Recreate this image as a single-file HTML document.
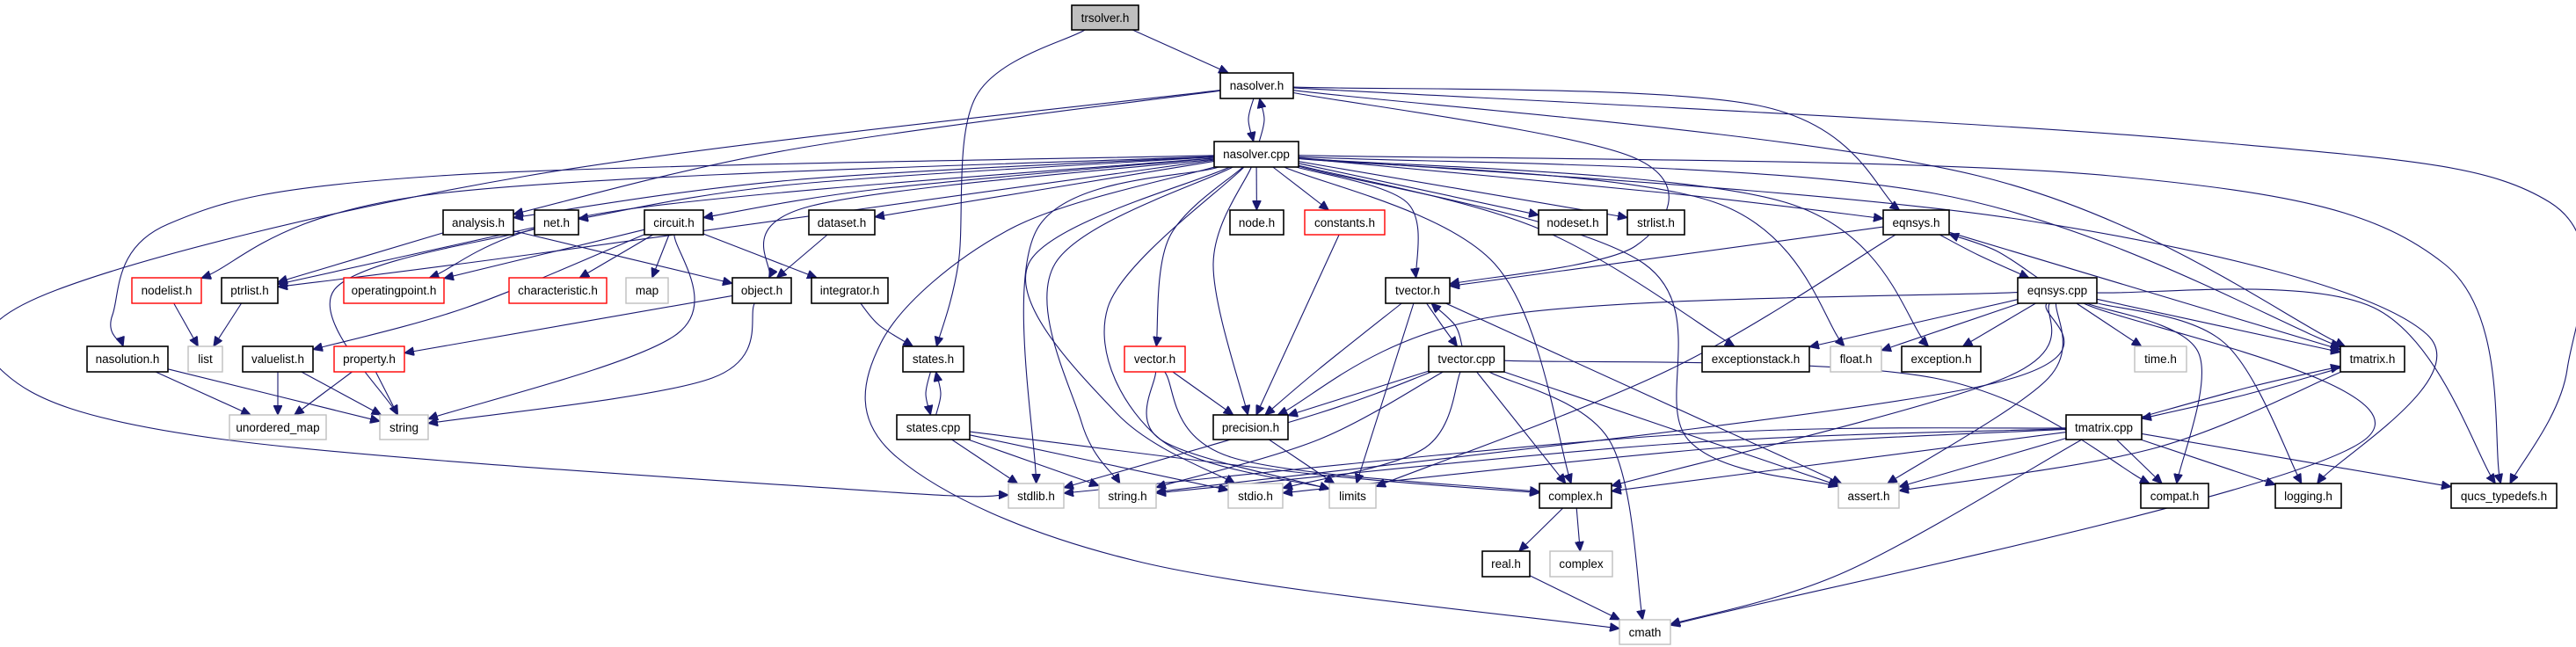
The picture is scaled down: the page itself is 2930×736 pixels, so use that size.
<!DOCTYPE html>
<html><head><meta charset="utf-8"><style>
html,body{margin:0;padding:0;background:#fff;}
svg{display:block;}
text{font-family:"Liberation Sans",sans-serif;font-size:13.5px;fill:#000;}
</style></head><body>
<svg id="g" width="2930" height="736" viewBox="0 0 2930 736" xmlns="http://www.w3.org/2000/svg">
<defs><marker id="a" markerUnits="userSpaceOnUse" markerWidth="12" markerHeight="10" refX="11" refY="5" orient="auto"><path d="M0,0 L11,5 L0,10 Z" fill="#191970" stroke="#191970"/></marker></defs>
<g id="edges" fill="none" stroke="#191970" stroke-width="1.1"></g>
<g id="nodes">
<rect x="1219" y="6" width="76" height="28" fill="#bfbfbf" stroke="#000" stroke-width="1.6"/><text x="1257" y="25" text-anchor="middle">trsolver.h</text>
<rect x="1388" y="83" width="83" height="29" fill="#fff" stroke="#000" stroke-width="1.6"/><text x="1429.5" y="102" text-anchor="middle">nasolver.h</text>
<rect x="1381" y="161" width="96" height="29" fill="#fff" stroke="#000" stroke-width="1.6"/><text x="1429" y="180" text-anchor="middle">nasolver.cpp</text>
<rect x="504" y="239" width="80" height="28" fill="#fff" stroke="#000" stroke-width="1.6"/><text x="544" y="258" text-anchor="middle">analysis.h</text>
<rect x="608" y="239" width="50" height="28" fill="#fff" stroke="#000" stroke-width="1.6"/><text x="633" y="258" text-anchor="middle">net.h</text>
<rect x="733" y="239" width="67" height="28" fill="#fff" stroke="#000" stroke-width="1.6"/><text x="766.5" y="258" text-anchor="middle">circuit.h</text>
<rect x="920" y="239" width="75" height="28" fill="#fff" stroke="#000" stroke-width="1.6"/><text x="957.5" y="258" text-anchor="middle">dataset.h</text>
<rect x="1399" y="239" width="61" height="28" fill="#fff" stroke="#000" stroke-width="1.6"/><text x="1429.5" y="258" text-anchor="middle">node.h</text>
<rect x="1484" y="239" width="91" height="28" fill="#fff" stroke="#f00" stroke-width="1.4"/><text x="1529.5" y="258" text-anchor="middle">constants.h</text>
<rect x="1750" y="239" width="78" height="28" fill="#fff" stroke="#000" stroke-width="1.6"/><text x="1789" y="258" text-anchor="middle">nodeset.h</text>
<rect x="1851" y="239" width="65" height="28" fill="#fff" stroke="#000" stroke-width="1.6"/><text x="1883.5" y="258" text-anchor="middle">strlist.h</text>
<rect x="2142" y="239" width="75" height="28" fill="#fff" stroke="#000" stroke-width="1.6"/><text x="2179.5" y="258" text-anchor="middle">eqnsys.h</text>
<rect x="150" y="316" width="79" height="29" fill="#fff" stroke="#f00" stroke-width="1.4"/><text x="189.5" y="335" text-anchor="middle">nodelist.h</text>
<rect x="252" y="316" width="64" height="29" fill="#fff" stroke="#000" stroke-width="1.6"/><text x="284" y="335" text-anchor="middle">ptrlist.h</text>
<rect x="391" y="316" width="114" height="29" fill="#fff" stroke="#f00" stroke-width="1.4"/><text x="448" y="335" text-anchor="middle">operatingpoint.h</text>
<rect x="579" y="316" width="111" height="29" fill="#fff" stroke="#f00" stroke-width="1.4"/><text x="634.5" y="335" text-anchor="middle">characteristic.h</text>
<rect x="712" y="316" width="48" height="29" fill="#fff" stroke="#bfbfbf" stroke-width="1.4"/><text x="736" y="335" text-anchor="middle">map</text>
<rect x="833" y="316" width="67" height="29" fill="#fff" stroke="#000" stroke-width="1.6"/><text x="866.5" y="335" text-anchor="middle">object.h</text>
<rect x="923" y="316" width="87" height="29" fill="#fff" stroke="#000" stroke-width="1.6"/><text x="966.5" y="335" text-anchor="middle">integrator.h</text>
<rect x="1576" y="316" width="73" height="29" fill="#fff" stroke="#000" stroke-width="1.6"/><text x="1612.5" y="335" text-anchor="middle">tvector.h</text>
<rect x="2295" y="316" width="90" height="29" fill="#fff" stroke="#000" stroke-width="1.6"/><text x="2340" y="335" text-anchor="middle">eqnsys.cpp</text>
<rect x="2662" y="394" width="73" height="29" fill="#fff" stroke="#000" stroke-width="1.6"/><text x="2698.5" y="413" text-anchor="middle">tmatrix.h</text>
<rect x="99" y="394" width="92" height="29" fill="#fff" stroke="#000" stroke-width="1.6"/><text x="145" y="413" text-anchor="middle">nasolution.h</text>
<rect x="214" y="394" width="39" height="29" fill="#fff" stroke="#bfbfbf" stroke-width="1.4"/><text x="233.5" y="413" text-anchor="middle">list</text>
<rect x="276" y="394" width="80" height="29" fill="#fff" stroke="#000" stroke-width="1.6"/><text x="316" y="413" text-anchor="middle">valuelist.h</text>
<rect x="380" y="394" width="80" height="29" fill="#fff" stroke="#f00" stroke-width="1.4"/><text x="420" y="413" text-anchor="middle">property.h</text>
<rect x="1027" y="394" width="69" height="29" fill="#fff" stroke="#000" stroke-width="1.6"/><text x="1061.5" y="413" text-anchor="middle">states.h</text>
<rect x="1279" y="394" width="69" height="29" fill="#fff" stroke="#f00" stroke-width="1.4"/><text x="1313.5" y="413" text-anchor="middle">vector.h</text>
<rect x="1625" y="394" width="86" height="29" fill="#fff" stroke="#000" stroke-width="1.6"/><text x="1668" y="413" text-anchor="middle">tvector.cpp</text>
<rect x="1936" y="394" width="122" height="29" fill="#fff" stroke="#000" stroke-width="1.6"/><text x="1997" y="413" text-anchor="middle">exceptionstack.h</text>
<rect x="2082" y="394" width="58" height="29" fill="#fff" stroke="#bfbfbf" stroke-width="1.4"/><text x="2111" y="413" text-anchor="middle">float.h</text>
<rect x="2163" y="394" width="90" height="29" fill="#fff" stroke="#000" stroke-width="1.6"/><text x="2208" y="413" text-anchor="middle">exception.h</text>
<rect x="2428" y="394" width="59" height="29" fill="#fff" stroke="#bfbfbf" stroke-width="1.4"/><text x="2457.5" y="413" text-anchor="middle">time.h</text>
<rect x="261" y="472" width="110" height="28" fill="#fff" stroke="#bfbfbf" stroke-width="1.4"/><text x="316" y="491" text-anchor="middle">unordered_map</text>
<rect x="432" y="472" width="55" height="28" fill="#fff" stroke="#bfbfbf" stroke-width="1.4"/><text x="459.5" y="491" text-anchor="middle">string</text>
<rect x="1020" y="472" width="83" height="28" fill="#fff" stroke="#000" stroke-width="1.6"/><text x="1061.5" y="491" text-anchor="middle">states.cpp</text>
<rect x="1380" y="472" width="85" height="28" fill="#fff" stroke="#000" stroke-width="1.6"/><text x="1422.5" y="491" text-anchor="middle">precision.h</text>
<rect x="2350" y="472" width="86" height="28" fill="#fff" stroke="#000" stroke-width="1.6"/><text x="2393" y="491" text-anchor="middle">tmatrix.cpp</text>
<rect x="1147" y="550" width="63" height="28" fill="#fff" stroke="#bfbfbf" stroke-width="1.4"/><text x="1178.5" y="569" text-anchor="middle">stdlib.h</text>
<rect x="1250" y="550" width="65" height="28" fill="#fff" stroke="#bfbfbf" stroke-width="1.4"/><text x="1282.5" y="569" text-anchor="middle">string.h</text>
<rect x="1397" y="550" width="62" height="28" fill="#fff" stroke="#bfbfbf" stroke-width="1.4"/><text x="1428" y="569" text-anchor="middle">stdio.h</text>
<rect x="1512" y="550" width="53" height="28" fill="#fff" stroke="#bfbfbf" stroke-width="1.4"/><text x="1538.5" y="569" text-anchor="middle">limits</text>
<rect x="1751" y="550" width="82" height="28" fill="#fff" stroke="#000" stroke-width="1.6"/><text x="1792" y="569" text-anchor="middle">complex.h</text>
<rect x="2091" y="550" width="69" height="28" fill="#fff" stroke="#bfbfbf" stroke-width="1.4"/><text x="2125.5" y="569" text-anchor="middle">assert.h</text>
<rect x="2435" y="550" width="77" height="28" fill="#fff" stroke="#000" stroke-width="1.6"/><text x="2473.5" y="569" text-anchor="middle">compat.h</text>
<rect x="2588" y="550" width="75" height="28" fill="#fff" stroke="#000" stroke-width="1.6"/><text x="2625.5" y="569" text-anchor="middle">logging.h</text>
<rect x="2788" y="550" width="120" height="28" fill="#fff" stroke="#000" stroke-width="1.6"/><text x="2848" y="569" text-anchor="middle">qucs_typedefs.h</text>
<rect x="1686" y="627" width="54" height="29" fill="#fff" stroke="#000" stroke-width="1.6"/><text x="1713" y="646" text-anchor="middle">real.h</text>
<rect x="1763" y="627" width="71" height="29" fill="#fff" stroke="#bfbfbf" stroke-width="1.4"/><text x="1798.5" y="646" text-anchor="middle">complex</text>
<rect x="1842" y="705" width="58" height="28" fill="#fff" stroke="#bfbfbf" stroke-width="1.4"/><text x="1871" y="724" text-anchor="middle">cmath</text>
</g>
</svg>
<script>
(function(){
var N={};
var rs=document.querySelectorAll('#nodes rect'),ts=document.querySelectorAll('#nodes text');
for(var i=0;i<rs.length;i++){var r=rs[i];N[ts[i].textContent]={x:+r.getAttribute('x'),y:+r.getAttribute('y'),w:+r.getAttribute('width'),h:+r.getAttribute('height')};}
function c(n){return [n.x+n.w/2,n.y+n.h/2];}
function clip(n,p){var cc=c(n),dx=p[0]-cc[0],dy=p[1]-cc[1];if(!dx&&!dy)return cc;var sx=dx?(n.w/2)/Math.abs(dx):1e9,sy=dy?(n.h/2)/Math.abs(dy):1e9,s=Math.min(sx,sy);return [cc[0]+dx*s,cc[1]+dy*s];}
var E=[
["trsolver.h","nasolver.h"],["trsolver.h","states.h",[[1110,110],[1090,300]]],
["nasolver.h","nasolver.cpp",[[1420,136]]],["nasolver.cpp","nasolver.h",[[1438,136]]],
["nasolver.h","analysis.h",[[900,170]]],["nasolver.h","stdlib.h",[[600,200],[64,330],[6,425],[255,500],[1000,559]]],
["nasolver.h","eqnsys.h",[[2000,120]]],["nasolver.h","tvector.h",[[1860,180],[1860,280]]],["nasolver.h","tmatrix.h",[[2250,200]]],["nasolver.h","qucs_typedefs.h",[[2500,160],[2900,230],[2920,420]]],
["nasolver.cpp","analysis.h",[[900,205]]],["nasolver.cpp","net.h",[[900,210]]],["nasolver.cpp","circuit.h",[[1000,215]]],["nasolver.cpp","dataset.h"],
["nasolver.cpp","nodelist.h",[[500,220]]],["nasolver.cpp","operatingpoint.h",[[700,240]]],["nasolver.cpp","object.h",[[920,235]]],["nasolver.cpp","nasolution.h",[[500,200],[191,255],[128,358]]],
["nasolver.cpp","ptrlist.h",[[600,290]]],
["nasolver.cpp","node.h"],["nasolver.cpp","constants.h"],["nasolver.cpp","vector.h",[[1330,270]]],["nasolver.cpp","precision.h",[[1380,300]]],["nasolver.cpp","tvector.h",[[1600,230]]],
["nasolver.cpp","nodeset.h"],["nasolver.cpp","strlist.h"],["nasolver.cpp","eqnsys.h",[[1900,220]]],["nasolver.cpp","exceptionstack.h",[[1750,260]]],["nasolver.cpp","float.h",[[1950,230]]],["nasolver.cpp","exception.h",[[2030,230]]],
["nasolver.cpp","tmatrix.h",[[2200,220]]],["nasolver.cpp","qucs_typedefs.h",[[2400,200],[2780,300]]],["nasolver.cpp","logging.h",[[2300,250],[2760,380]]],["nasolver.cpp","assert.h",[[1870,300],[1920,500]]],
["nasolver.cpp","complex.h",[[1700,300]]],["nasolver.cpp","stdlib.h",[[1180,260]]],["nasolver.cpp","string.h",[[1200,300],[1230,480]]],["nasolver.cpp","stdio.h",[[1170,300],[1270,470]]],["nasolver.cpp","limits",[[1260,350],[1320,500]]],
["nasolver.cpp","cmath",[[1150,260],[1002,390],[1020,520],[1300,640]]],
["analysis.h","object.h"],["analysis.h","ptrlist.h"],["net.h","ptrlist.h"],["net.h","string",[[380,330]]],
["circuit.h","operatingpoint.h"],["circuit.h","characteristic.h"],["circuit.h","map"],["circuit.h","integrator.h"],["circuit.h","valuelist.h",[[530,350]]],["circuit.h","string",[[770,380]]],
["dataset.h","object.h"],["object.h","property.h"],["object.h","string",[[810,430]]],["integrator.h","states.h",[[1000,370]]],
["nodelist.h","list"],["ptrlist.h","list"],["nasolution.h","unordered_map"],["nasolution.h","string"],["valuelist.h","unordered_map"],["valuelist.h","string"],["property.h","unordered_map"],["property.h","string"],
["states.h","states.cpp",[[1053,448]]],["states.cpp","states.h",[[1070,448]]],["states.cpp","stdlib.h"],["states.cpp","string.h"],["states.cpp","stdio.h"],["states.cpp","complex.h",[[1500,540]]],
["constants.h","precision.h"],["vector.h","precision.h"],["vector.h","limits",[[1320,500]]],["vector.h","complex.h",[[1400,520]]],
["tvector.h","tvector.cpp",[[1640,370]]],["tvector.cpp","tvector.h",[[1655,370]]],["tvector.h","precision.h",[[1500,420]]],["tvector.h","limits"],["tvector.h","assert.h"],
["tvector.cpp","precision.h"],["tvector.cpp","stdlib.h",[[1500,470]]],["tvector.cpp","string.h",[[1500,500]]],["tvector.cpp","stdio.h",[[1620,510]]],["tvector.cpp","complex.h"],["tvector.cpp","cmath",[[1830,500]]],["tvector.cpp","assert.h"],["tvector.cpp","compat.h",[[2200,430]]],
["precision.h","limits"],["complex.h","real.h"],["complex.h","complex"],["real.h","cmath"],
["eqnsys.h","eqnsys.cpp",[[2250,290]]],["eqnsys.cpp","eqnsys.h",[[2270,285]]],["eqnsys.h","tvector.h"],["eqnsys.h","tmatrix.h"],["eqnsys.h","limits",[[1900,420]]],
["eqnsys.cpp","precision.h",[[1700,360]]],["eqnsys.cpp","exceptionstack.h"],["eqnsys.cpp","float.h"],["eqnsys.cpp","exception.h"],["eqnsys.cpp","time.h"],["eqnsys.cpp","tmatrix.h"],
["eqnsys.cpp","assert.h",[[2330,430]]],["eqnsys.cpp","compat.h",[[2500,400]]],["eqnsys.cpp","logging.h",[[2530,390]]],["eqnsys.cpp","qucs_typedefs.h",[[2700,350]]],["eqnsys.cpp","cmath",[[2690,500]]],
["eqnsys.cpp","complex.h",[[2280,430]]],["eqnsys.cpp","string.h",[[2250,440]]],
["tmatrix.h","tmatrix.cpp",[[2550,450]]],["tmatrix.cpp","tmatrix.h",[[2560,440]]],["tmatrix.h","assert.h",[[2450,510]]],
["tmatrix.cpp","stdlib.h",[[1900,495]]],["tmatrix.cpp","string.h",[[1900,505]]],["tmatrix.cpp","stdio.h",[[1950,510]]],["tmatrix.cpp","complex.h"],["tmatrix.cpp","assert.h"],["tmatrix.cpp","compat.h"],["tmatrix.cpp","logging.h"],["tmatrix.cpp","qucs_typedefs.h"],["tmatrix.cpp","cmath",[[2100,650]]]
];
var G=document.getElementById('edges'),ns='http://www.w3.org/2000/svg';
function cr(pts){var d='M'+pts[0][0].toFixed(1)+','+pts[0][1].toFixed(1);for(var i=0;i<pts.length-1;i++){var p0=pts[i-1]||pts[i],p1=pts[i],p2=pts[i+1],p3=pts[i+2]||p2;var c1=[p1[0]+(p2[0]-p0[0])/6,p1[1]+(p2[1]-p0[1])/6],c2=[p2[0]-(p3[0]-p1[0])/6,p2[1]-(p3[1]-p1[1])/6];d+=' C'+c1[0].toFixed(1)+','+c1[1].toFixed(1)+' '+c2[0].toFixed(1)+','+c2[1].toFixed(1)+' '+p2[0].toFixed(1)+','+p2[1].toFixed(1);}return d;}
E.forEach(function(e){var s=N[e[0]],t=N[e[1]];if(!s||!t)return;var w=e[2]||[];var first=w.length?w[0]:c(t),last=w.length?w[w.length-1]:c(s);var p=[clip(s,first)].concat(w,[clip(t,last)]);var el=document.createElementNS(ns,'path');el.setAttribute('d',cr(p));el.setAttribute('marker-end','url(#a)');G.appendChild(el);});
})();
</script>
</body></html>
